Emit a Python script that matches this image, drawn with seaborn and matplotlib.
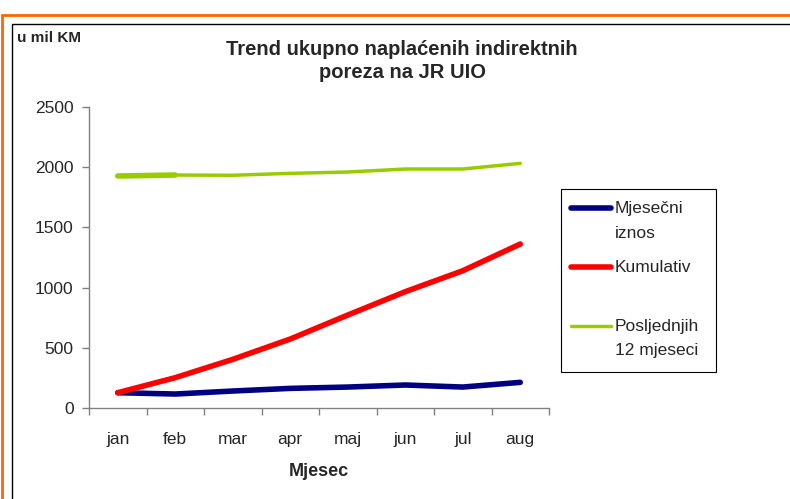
import matplotlib.pyplot as plt
import matplotlib.patches as mpatches
import pandas as pd
import seaborn as sns

months = ["jan", "feb", "mar", "apr", "maj", "jun", "jul", "aug"]
mjesecni = [127, 116, 141, 163, 174, 191, 174, 213]
kumulativ = [127, 252, 404, 573, 772, 966, 1140, 1362]
posljednjih12 = [1927, 1935, 1933, 1949, 1960, 1985, 1985, 2032]
series_names = ["Mjesečni iznos", "Kumulativ", "Posljednjih 12 mjeseci"]

df = pd.DataFrame({
    "x": list(range(len(months))) * 3,
    "value": mjesecni + kumulativ + posljednjih12,
    "series": [series_names[0]] * 8 + [series_names[1]] * 8 + [series_names[2]] * 8,
})

sns.set_style("white")
plt.rcParams["font.family"] = ["Liberation Sans", "DejaVu Sans"]

fig = plt.figure(figsize=(7.9, 4.99), dpi=100)
ax = fig.add_axes([89 / 790, 1 - 408 / 499, 460 / 790, 301 / 499])

palette = {series_names[0]: "#000080", series_names[1]: "#ff0000", series_names[2]: "#99cc00"}
widths = {series_names[0]: 4, series_names[1]: 4, series_names[2]: 2.5}
sns.lineplot(data=df, x="x", y="value", hue="series", palette=palette, ax=ax, legend=False)
for line, n in zip(ax.get_lines(), series_names):
    line.set_linewidth(widths[n])
    line.set_solid_capstyle("round")
# the reference draws the first green segment a bit heavier
sns.lineplot(x=[0, 1], y=posljednjih12[:2], color=palette[series_names[2]], lw=4, ax=ax)
ax.get_lines()[-1].set_solid_capstyle("round")

ax.set_xlim(-0.5, len(months) - 0.5)
ax.set_ylim(0, 2500)
ax.set_yticks(range(0, 2501, 500))
ax.set_xticks([i - 0.5 for i in range(len(months) + 1)])
ax.set_xticklabels([])
ax.set_xticks(range(len(months)), minor=True)
ax.set_xticklabels(months, minor=True)
ax.tick_params(axis="x", which="major", length=5, direction="out", color="#808080", width=1)
ax.tick_params(axis="x", which="minor", length=0, pad=17, labelsize=12.5)
ax.tick_params(axis="y", length=5, direction="out", color="#808080", width=1, labelsize=12.5, pad=6)
ax.tick_params(left=True, bottom=True)
for s in ["top", "right"]:
    ax.spines[s].set_visible(False)
for s in ["left", "bottom"]:
    ax.spines[s].set_color("#808080")
    ax.spines[s].set_linewidth(1)
ax.set_xlabel("Mjesec", fontsize=13, fontweight="bold", labelpad=12)
ax.set_ylabel("")

fig.text(402 / 790, 1 - 61 / 499, "Trend ukupno naplaćenih indirektnih\nporeza na JR UIO",
         ha="center", va="center", fontsize=14.5, fontweight="bold", linespacing=1.25)
fig.text(17 / 790, 1 - 38 / 499, "u mil KM", ha="left", va="center", fontsize=11, fontweight="bold")

# legend box drawn by hand to keep Excel's layout (handle beside first line of each label)
H = 499.0
fig.patches.append(mpatches.Rectangle((561 / 790, 1 - 372 / H), 155 / 790, 183 / H,
                                      transform=fig.transFigure, fill=False, edgecolor="black", lw=0.8))
legend_rows = [("Mjesečni", "iznos", 208), ("Kumulativ", None, 267), ("Posljednjih", "12 mjeseci", 326)]
for n, (l1, l2, yy) in zip(series_names, legend_rows):
    fig.add_artist(plt.Line2D([571 / 790, 611 / 790], [1 - yy / H, 1 - yy / H], color=palette[n],
                              lw=widths[n], solid_capstyle="round", transform=fig.transFigure))
    fig.text(615 / 790, 1 - yy / H, l1, ha="left", va="center", fontsize=12.5)
    if l2:
        fig.text(615 / 790, 1 - (yy + 25) / H, l2, ha="left", va="center", fontsize=12.5)

fig.patches.append(mpatches.Rectangle((2 / 790, -0.1), 1.2, 1 - 15 / 499 + 0.1,
                                      transform=fig.transFigure, fill=False, edgecolor="#ff6600", lw=2))
fig.patches.append(mpatches.Rectangle((12 / 790, -0.1), 1.2, 1 - 24 / 499 + 0.1,
                                      transform=fig.transFigure, fill=False, edgecolor="black", lw=1))

fig.savefig("out.png", dpi=100)
